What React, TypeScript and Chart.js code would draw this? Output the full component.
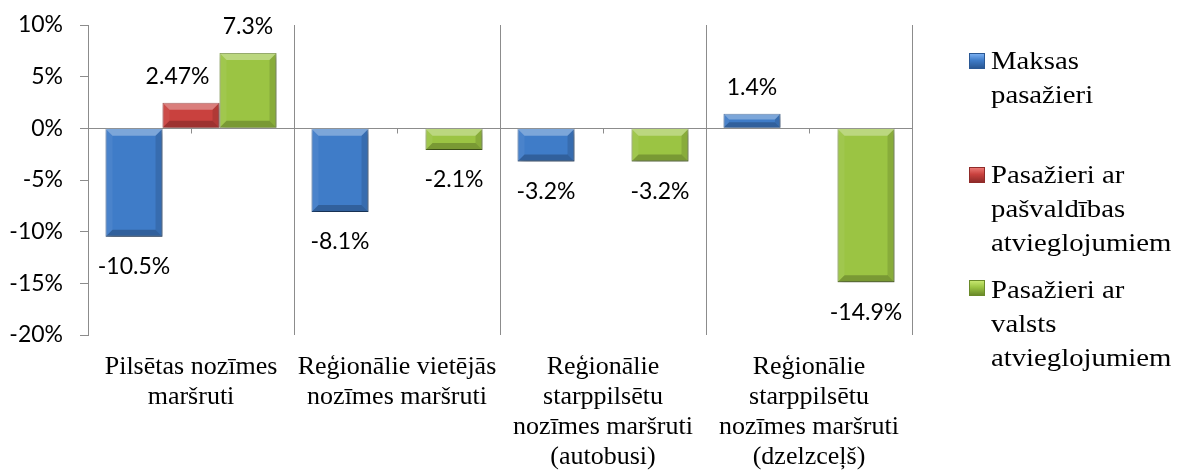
import React, { useEffect, useRef } from 'react';
import { Chart, registerables } from 'chart.js';

Chart.register(...registerables);

const categories: string[][] = [
  ['Pilsētas nozīmes', 'maršruti'],
  ['Reģionālie vietējās', 'nozīmes maršruti'],
  ['Reģionālie', 'starppilsētu', 'nozīmes maršruti', '(autobusi)'],
  ['Reģionālie', 'starppilsētu', 'nozīmes maršruti', '(dzelzceļš)'],
];

const seriesNames = [
  'Maksas pasažieri',
  'Pasažieri ar pašvaldības atvieglojumiem',
  'Pasažieri ar valsts atvieglojumiem',
];

const legendLines: string[][] = [
  ['Maksas', 'pasažieri'],
  ['Pasažieri ar', 'pašvaldības', 'atvieglojumiem'],
  ['Pasažieri ar', 'valsts', 'atvieglojumiem'],
];

const maksasPasazieri: (number | null)[] = [-10.5, -8.1, -3.2, 1.4];
const pasvaldibasAtvieglojumi: (number | null)[] = [2.47, null, null, null];
const valstsAtvieglojumi: (number | null)[] = [7.3, -2.1, -3.2, -14.9];

const yTickValues = [-20, -15, -10, -5, 0, 5, 10];

const seriesColors = ['#3f7cc8', '#c9413e', '#9bc443'];
const seriesLight = ['#79aef0', '#ea7773', '#c6e66f'];
const seriesDark = ['#2a5894', '#8f2b29', '#6a8a2a'];

const GRID = '#8c8c8c';
const SERIF = '"Liberation Serif", "Times New Roman", serif';

function drawBevel(ctx: CanvasRenderingContext2D, x: number, y: number, base: number, width: number) {
  const l = x - width / 2;
  const r = x + width / 2;
  const t = Math.min(y, base);
  const b = Math.max(y, base);
  const h = b - t;
  const s = Math.min(7, h / 2.5, width / 4);
  if (s <= 0.5) return;
  const poly = (pts: number[][], color: string) => {
    ctx.fillStyle = color;
    ctx.beginPath();
    ctx.moveTo(pts[0][0], pts[0][1]);
    for (let k = 1; k < pts.length; k++) ctx.lineTo(pts[k][0], pts[k][1]);
    ctx.closePath();
    ctx.fill();
  };
  poly([[l, t], [r, t], [r - s, t + s], [l + s, t + s]], 'rgba(255,255,255,0.32)');
  poly([[l, b], [r, b], [r - s, b - s], [l + s, b - s]], 'rgba(0,0,0,0.22)');
  poly([[l, t], [l + s, t + s], [l + s, b - s], [l, b]], 'rgba(255,255,255,0.06)');
  poly([[r, t], [r - s, t + s], [r - s, b - s], [r, b]], 'rgba(0,0,0,0.12)');
}

const decorPlugin = {
  id: 'decor',
  beforeDatasetsDraw(chart: any) {
    const ctx = chart.ctx as CanvasRenderingContext2D;
    ctx.save();
    ctx.shadowColor = 'rgba(0,0,0,0.35)';
    ctx.shadowBlur = 6;
    ctx.shadowOffsetX = 2;
    ctx.shadowOffsetY = 3;
  },
  afterDatasetsDraw(chart: any) {
    const ctx = chart.ctx as CanvasRenderingContext2D;
    ctx.restore();
    const rects: any[] = [];
    chart.data.datasets.forEach((ds: any, di: number) => {
      const meta = chart.getDatasetMeta(di);
      meta.data.forEach((el: any, i: number) => {
        const v = ds.data[i];
        if (v === null || v === undefined) return;
        const p = el.getProps(['x', 'y', 'base', 'width'], true);
        rects.push({ di, i, v, x: p.x, y: p.y, base: p.base, width: p.width });
      });
    });
    ctx.save();
    rects.forEach((r) => drawBevel(ctx, r.x, r.y, r.base, r.width));
    ctx.restore();

    // small category ticks on the zero line
    const yScale = chart.scales.y;
    const xScale = chart.scales.x;
    const zeroY = Math.round(yScale.getPixelForValue(0)) + 0.5;
    ctx.save();
    ctx.strokeStyle = GRID;
    ctx.lineWidth = 1;
    categories.forEach((_, i) => {
      const cx = Math.round(xScale.getPixelForValue(i)) + 0.5;
      ctx.beginPath();
      ctx.moveTo(cx, zeroY);
      ctx.lineTo(cx, zeroY + 5);
      ctx.stroke();
    });
    ctx.restore();

    // data labels
    ctx.save();
    ctx.font = '23px Lato';
    ctx.fillStyle = '#000';
    ctx.textAlign = 'center';
    ctx.textBaseline = 'middle';
    rects.forEach((r) => {
      const text = r.v + '%';
      const w = ctx.measureText(text).width;
      let cx = r.x;
      const cy = r.v >= 0 ? r.y - 26 : r.y + 30;
      const top = cy - 10;
      const bot = cy + 10;
      rects.forEach((o) => {
        if (o === r || o.i !== r.i) return;
        const oTop = Math.min(o.y, o.base);
        const oBot = Math.max(o.y, o.base);
        const oL = o.x - o.width / 2;
        const oR = o.x + o.width / 2;
        if (bot > oTop && top < oBot) {
          const lft = cx - w / 2;
          const rgt = cx + w / 2;
          if (rgt > oL && lft < oR) {
            if (o.x > r.x) cx -= rgt - oL + 10;
            else cx += oR - lft + 10;
          }
        }
      });
      ctx.fillText(text, cx, cy);
    });
    ctx.restore();
  },
};

export default function App() {
  const canvasRef = useRef<HTMLCanvasElement | null>(null);

  useEffect(() => {
    if (!canvasRef.current) return;
    const seriesData = [maksasPasazieri, pasvaldibasAtvieglojumi, valstsAtvieglojumi];
    const chart = new Chart(canvasRef.current, {
      type: 'bar',
      data: {
        labels: categories,
        datasets: seriesData.map((d, k) => ({
          label: seriesNames[k],
          data: d,
          backgroundColor: seriesColors[k],
          borderColor: seriesDark[k],
          borderWidth: 1,
          categoryPercentage: 0.83,
          barPercentage: 1,
        })),
      },
      options: {
        animation: false,
        responsive: true,
        maintainAspectRatio: false,
        layout: { padding: { top: 25, right: 265, bottom: 0, left: 0 } },
        plugins: {
          legend: { display: false },
          tooltip: { enabled: false },
        },
        scales: {
          x: {
            grid: { color: GRID, drawTicks: false, offset: true, lineWidth: 1 },
            border: { display: false },
            ticks: {
              font: { family: SERIF, size: 26, lineHeight: '30px' },
              color: '#000',
              padding: 17,
              maxRotation: 0,
              autoSkip: false,
            },
            afterFit: (s: any) => {
              s.height = 135;
              s.paddingLeft = 0;
              s.paddingRight = 0;
            },
          },
          y: {
            min: -20,
            max: 10,
            afterBuildTicks: (s: any) => {
              s.ticks = yTickValues.map((v) => ({ value: v }));
            },
            ticks: {
              callback: (v: any) => v + '%',
              font: { family: 'Lato', size: 23 },
              color: '#000',
              padding: 17,
            },
            grid: {
              color: (c: any) => (c.tick && c.tick.value === 0 ? GRID : 'rgba(0,0,0,0)'),
              tickColor: GRID,
              tickLength: 8,
              lineWidth: 1,
            },
            border: { display: true, color: GRID },
            afterFit: (s: any) => {
              s.width = 88;
              s.paddingTop = 0;
              s.paddingBottom = 0;
            },
          },
        },
      },
      plugins: [decorPlugin],
    } as any);
    return () => chart.destroy();
  }, []);

  const legendTextTops = [44, 158, 273];
  const legendSquareTops = [53, 167, 280];

  return (
    <div style={{ position: 'fixed', left: 0, top: 0, width: 1177, height: 470, background: '#fff', overflow: 'hidden' }}>
      <div style={{ position: 'absolute', left: 0, top: 0, width: 1177, height: 470 }}>
        <canvas ref={canvasRef} />
      </div>
      {legendLines.map((lines, k) => (
        <React.Fragment key={k}>
          <div
            style={{
              position: 'absolute',
              left: 969,
              top: legendSquareTops[k],
              width: 14,
              height: 14,
              background: `linear-gradient(to bottom, ${seriesLight[k]} 0%, ${seriesColors[k]} 45%, ${seriesDark[k]} 100%)`,
              border: `1px solid ${seriesDark[k]}`,
            }}
          />
          <div
            style={{
              position: 'absolute',
              left: 991,
              top: legendTextTops[k],
              fontFamily: SERIF,
              fontSize: 25,
              lineHeight: '34px',
              color: '#000',
              whiteSpace: 'nowrap',
              transform: 'scaleX(1.15)',
              transformOrigin: 'left top',
            }}
          >
            {lines.map((ln, j) => (
              <div key={j}>{ln}</div>
            ))}
          </div>
        </React.Fragment>
      ))}
    </div>
  );
}
